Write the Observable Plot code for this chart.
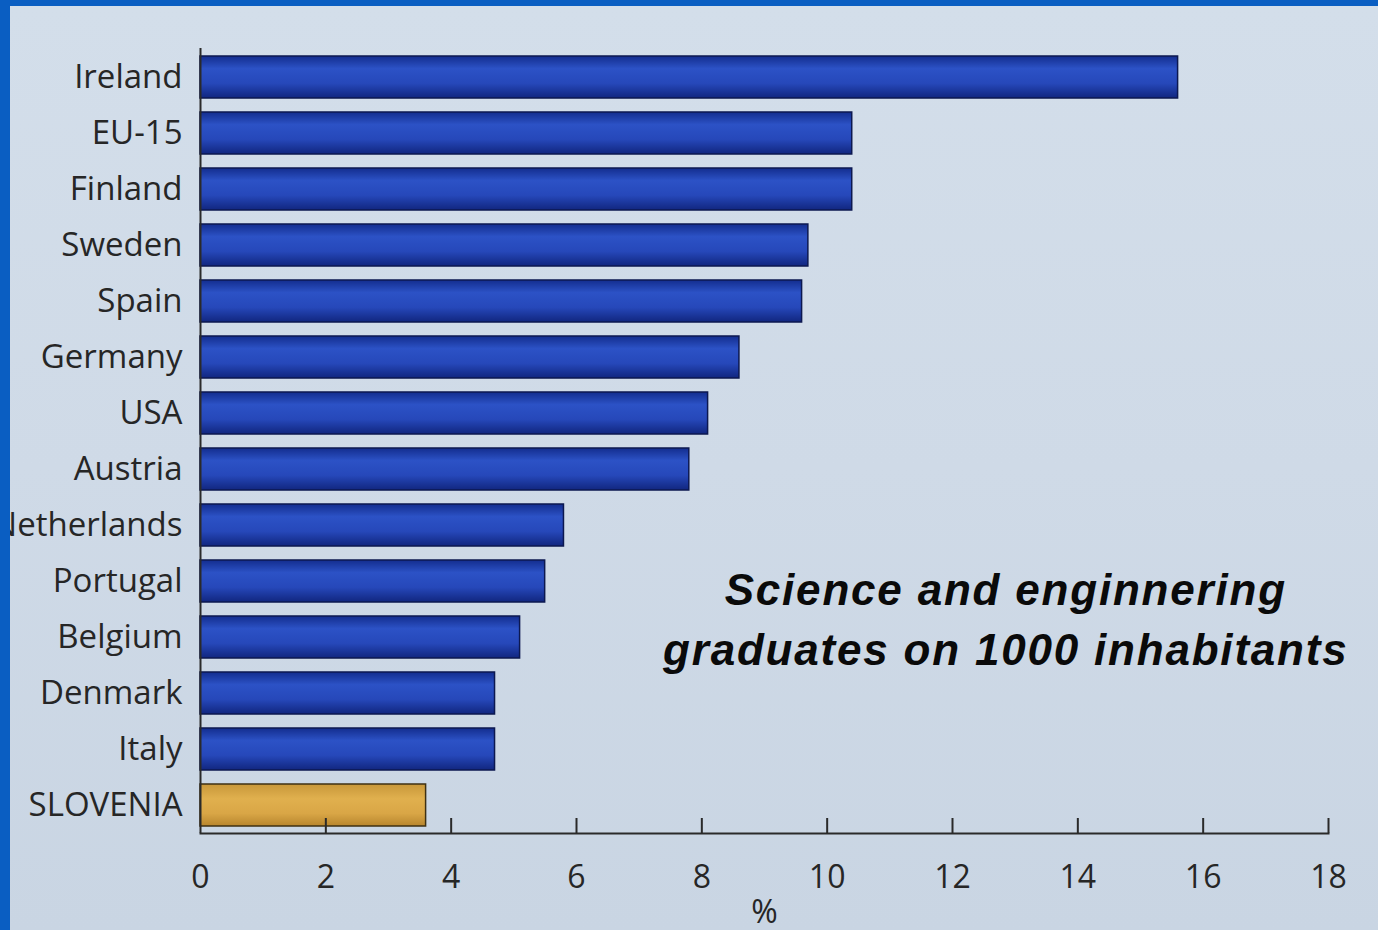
<!DOCTYPE html>
<html>
<head>
<meta charset="utf-8">
<script src="https://cdn.jsdelivr.net/npm/d3@7"></script>
<script src="https://cdn.jsdelivr.net/npm/@observablehq/plot@0.6"></script>
<style>
  html, body { margin: 0; padding: 0; }
  body { width: 1378px; height: 930px; background: #0a5ec2; overflow: hidden; position: relative; }
  #panel { position: absolute; left: 10px; top: 6px; width: 1368px; height: 924px; overflow: hidden;
           background: linear-gradient(180deg, #d3deea 0%, #cfdae7 50%, #c9d5e3 100%); }
  #panel svg { display: block; }
  .note text { letter-spacing: 1.8px; }
</style>
</head>
<body>
<div id="panel"></div>
<script>
const countries = ["Ireland","EU-15","Finland","Sweden","Spain","Germany","USA","Austria","Netherlands","Portugal","Belgium","Denmark","Italy","SLOVENIA"];
const values = [15.6, 10.4, 10.4, 9.7, 9.6, 8.6, 8.1, 7.8, 5.8, 5.5, 5.1, 4.7, 4.7, 3.6];
const highlight = "SLOVENIA";
const xTicks = [0, 2, 4, 6, 8, 10, 12, 14, 16, 18];
const xLabel = "%";
const noteText = "Science and enginnering\ngraduates on 1000 inhabitants";
const noteRow = "Portugal";
const noteX = 12.85;

const data = countries.map((c, i) => ({country: c, value: values[i]}));
const notes = [{text: noteText, country: noteRow, x: noteX}];

const chart = Plot.plot({
  width: 1368,
  height: 924,
  marginLeft: 190,
  marginRight: 50,
  marginTop: 42,
  marginBottom: 97,
  style: {background: "transparent", fontFamily: "'Open Sans', sans-serif", color: "#262626"},
  x: {domain: [0, 18]},
  y: {domain: countries, paddingInner: 0.25, paddingOuter: 0.1},
  marks: [
    Plot.barX(data.filter(d => d.country !== highlight), {x: "value", y: "country", fill: "url(#gBlue)", stroke: "#0c1850", strokeWidth: 1.5}),
    Plot.barX(data.filter(d => d.country === highlight), {x: "value", y: "country", fill: "url(#gGold)", stroke: "#3f3113", strokeWidth: 1.5}),
    Plot.ruleX([0], {stroke: "#2a2a2a", strokeWidth: 2}),
    Plot.frame({anchor: "bottom", stroke: "#2a2a2a", strokeWidth: 2}),
    Plot.axisX({ticks: xTicks.filter(d => d > 0), tickSize: -15, tickFormat: () => "", label: null, stroke: "#2a2a2a", strokeWidth: 2}),
    Plot.axisX({ticks: xTicks, tickSize: 0, tickPadding: 32, fontSize: 32, fill: "#262626",
                label: xLabel, labelAnchor: "center", labelArrow: "none", labelOffset: 89}),
    Plot.axisY({tickSize: 0, tickPadding: 18, fontSize: 33, fill: "#262626", label: null}),
    Plot.text(notes, {x: "x", y: "country", text: "text", lineAnchor: "top", dy: -19, lineHeight: 1.36,
                      fontSize: 44, fontWeight: "bold", fontStyle: "italic", className: "note",
                      fontFamily: "'Liberation Sans', Arial, sans-serif", fill: "#0a0a0a", textAnchor: "middle"})
  ]
});

const ns = "http://www.w3.org/2000/svg";
const defs = document.createElementNS(ns, "defs");
defs.innerHTML = `
  <linearGradient id="gBlue" x1="0" y1="0" x2="0" y2="1">
    <stop offset="0" stop-color="#132d8e"/>
    <stop offset="0.3" stop-color="#2c52c6"/>
    <stop offset="0.65" stop-color="#2648ba"/>
    <stop offset="1" stop-color="#11267f"/>
  </linearGradient>
  <linearGradient id="gGold" x1="0" y1="0" x2="0" y2="1">
    <stop offset="0" stop-color="#c8973a"/>
    <stop offset="0.35" stop-color="#e0b04e"/>
    <stop offset="0.7" stop-color="#d9a646"/>
    <stop offset="1" stop-color="#b8862e"/>
  </linearGradient>`;
chart.insertBefore(defs, chart.firstChild);
document.getElementById("panel").appendChild(chart);
</script>
</body>
</html>
